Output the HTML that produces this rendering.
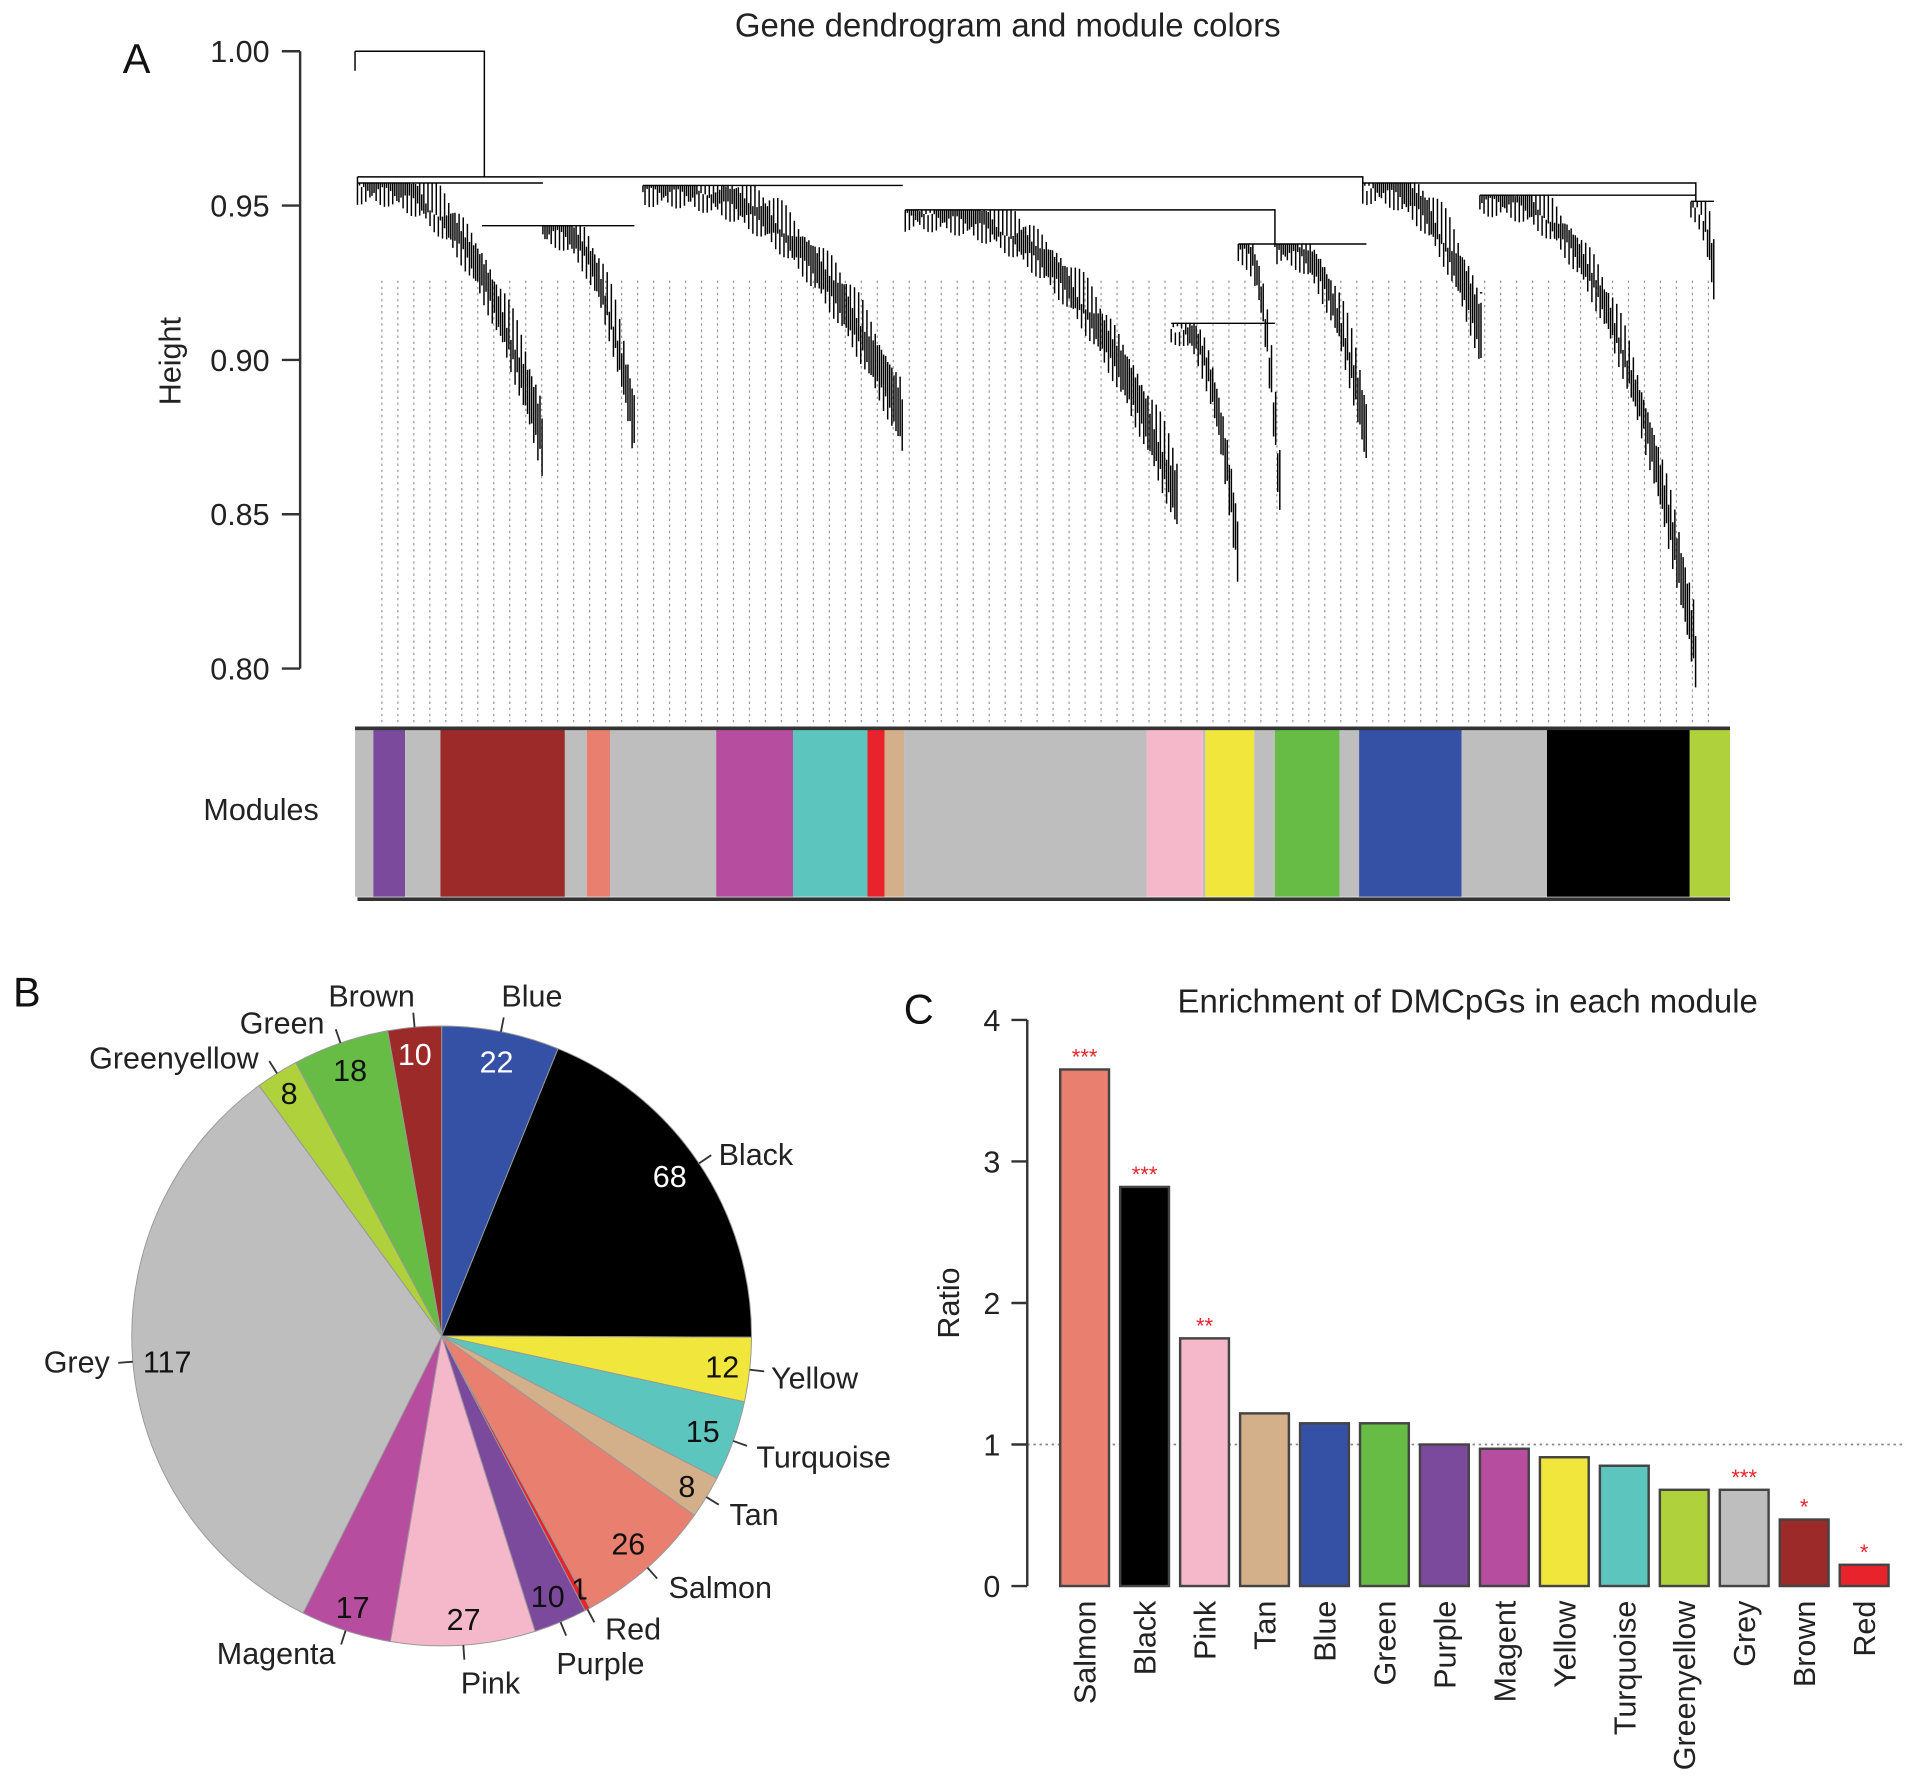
<!DOCTYPE html>
<html><head><meta charset="utf-8"><style>
html,body{margin:0;padding:0;background:#fff;}
svg{display:block;font-family:"Liberation Sans",Arial,sans-serif;}
</style></head><body>
<svg id="fig" width="1913" height="1791" viewBox="0 0 1568 1468" preserveAspectRatio="none" xmlns="http://www.w3.org/2000/svg">
<rect width="1568" height="1468" fill="#fff"/>
<g id="panelA">
<text x="826" y="30" font-size="27" text-anchor="middle" fill="#222">Gene dendrogram and module colors</text>
<text x="112" y="60" font-size="34" text-anchor="middle" fill="#111">A</text>
<text transform="translate(148,296) rotate(-90)" font-size="25" text-anchor="middle" fill="#222">Height</text>
<text x="214" y="672" font-size="25" text-anchor="middle" fill="#222">Modules</text>
<g id="dendroAxis"></g><g id="dendroDots"></g><g id="dendro"></g><g id="modules"></g>
</g>
<g id="panelB">
<text x="22" y="825" font-size="34" text-anchor="middle" fill="#111">B</text>
<g id="pie"></g>
</g>
<g id="panelC">
<text x="753" y="839" font-size="34" text-anchor="middle" fill="#111">C</text>
<text x="1203" y="830" font-size="27" text-anchor="middle" fill="#222">Enrichment of DMCpGs in each module</text>
<text transform="translate(786,1068) rotate(-90)" font-size="25" text-anchor="middle" fill="#222">Ratio</text>
<g id="bars"></g>
</g>
</svg>
<script>
// ---- Panel C data ----
const barCategories = ["Salmon","Black","Pink","Tan","Blue","Green","Purple","Magent","Yellow","Turquoise","Greenyellow","Grey","Brown","Red"];
const barValues = [3.65,2.82,1.75,1.22,1.15,1.15,1.0,0.97,0.91,0.85,0.68,0.68,0.47,0.15];
const barStars = ["***","***","**","","","","","","","","","***","*","*"];
const barTicks = [0,1,2,3,4];
// ---- Panel B data ----
const pieLabels = ["Blue","Black","Yellow","Turquoise","Tan","Salmon","Red","Purple","Pink","Magenta","Grey","Greenyellow","Green","Brown"];
const pieValues = [22,68,12,15,8,26,1,10,27,17,117,8,18,10];
// ---- Panel A axis ticks ----
const heightTicks = [1.00,0.95,0.90,0.85,0.80];

const NS="http://www.w3.org/2000/svg";
const colorMap={Salmon:"#e9806f",Black:"#000",Pink:"#f5b8ca",Tan:"#d3b08a",Blue:"#3451a5",Green:"#67bc45",Purple:"#7b4a9d",Magent:"#b64d9f",Magenta:"#b64d9f",Yellow:"#f1e63b",Turquoise:"#5cc5be",Greenyellow:"#aed13c",Grey:"#bebebe",Brown:"#9b2a28",Red:"#e8232b"};
function mk(tag,attrs,parent){const e=document.createElementNS(NS,tag);for(const k in attrs)e.setAttribute(k,attrs[k]);parent.appendChild(e);return e;}

// ---- Panel A axis ----
const ax=document.getElementById('dendroAxis');
const hy=v=>42+(1.00-v)/0.20*506;
let l=mk('line',{x1:246,x2:246,y1:hy(1),y2:hy(0.8),stroke:"#333","stroke-width":2},ax);


heightTicks.forEach(v=>{
  let t=mk('line',{x1:231,x2:246,y1:hy(v),y2:hy(v),stroke:"#333","stroke-width":2},ax);
  
  
  let tx=mk('text',{x:221,y:hy(v)+9,"font-size":25,"text-anchor":"end",fill:"#222"},ax);
  tx.textContent=v.toFixed(2);
  
  
});

// ---- Dendrogram (approximate drawing) ----
const dg=document.getElementById('dendro');
const dd=document.getElementById('dendroDots');
for(let x=313;x<=1405;x+=13.1){
  let d=mk('line',{x1:x,x2:x,y1:230,y2:592,stroke:"#999","stroke-width":1,"stroke-dasharray":"2,3"},dd);
  
  
}
const clusters=[[293,445,150,385],[445,520,185,372],[527,740,152,366],[742,965,172,430],[960,1015,265,478],[1015,1050,200,440],[1045,1120,200,380],[1117,1215,150,300],[1213,1390,160,557],[1386,1405,165,248]];
const P=[];
clusters.forEach((c,ci)=>{
  const [x0,x1,t,b]=c;
  P.push(`M${x0} ${t}H${x1}`);
  for(let x=x0;x<=x1;x+=1.7){
    const u=(x-x0)/(x1-x0);
    const f=Math.pow(u,2.6);
    const yb=t+10+(b-t-10)*f + 8*Math.sin(x*1.7+ci);
    const len=10+16*Math.abs(Math.sin(x*0.9))+ 25*f;
    P.push(`M${x.toFixed(1)} ${Math.max(t,yb-len).toFixed(1)}V${yb.toFixed(1)}`);
  }
});
P.push("M291 42V58M291 42H397V145M293 145H1117V165M293 145V160M1117 150H1390V165M395 185H520M742 172H1045V200M960 265H1045M1213 240H1215");
let dp=mk('path',{d:P.join(''),stroke:"#000","stroke-width":1.2,fill:"none"},dg);



// ---- Module color bar ----
const mg=document.getElementById('modules');
const segs=[[291,306,"Grey"],[306,332,"Purple"],[332,361,"Grey"],[361,463,"Brown"],[463,481,"Grey"],[481,500,"Salmon"],[500,587,"Grey"],[587,650,"Magenta"],[650,711,"Turquoise"],[711,725,"Red"],[725,741,"Tan"],[741,940,"Grey"],[940,986,"Pink"],[986,988,"Grey"],[988,1028,"Yellow"],[1028,1045,"Grey"],[1045,1098,"Green"],[1098,1114,"Grey"],[1114,1198,"Blue"],[1198,1268,"Grey"],[1268,1385,"Black"],[1385,1418,"Greenyellow"]];
segs.forEach(s=>{
  let r=mk('rect',{x:s[0],y:598,width:s[1]-s[0],height:137,fill:colorMap[s[2]]},mg);
  
  
});
let mt=mk('path',{d:"M291 597H1418M293 737H1418",stroke:"#333","stroke-width":3,fill:"none"},mg);



// ---- Pie ----
const pg=document.getElementById('pie');
const cx=362,cy=1095,R=254;
const total=pieValues.reduce((a,b)=>a+b,0);
const namePos={Blue:[436,825,"middle"],Black:[589,955,"start"],Yellow:[632,1138,"start"],Turquoise:[620,1203,"start"],Tan:[598,1250,"start"],Salmon:[548,1310,"start"],Red:[496,1344,"start"],Purple:[456,1372,"start"],Pink:[402,1388,"middle"],Magenta:[275,1364,"end"],Grey:[90,1125,"end"],Greenyellow:[212,876,"end"],Green:[266,847,"end"],Brown:[340,825,"end"]};
const numPos={Blue:[407,879],Black:[549,973],Yellow:[592,1129],Turquoise:[576,1182],Tan:[563,1227],Salmon:[515,1274],Red:[475,1311],Purple:[449,1317],Pink:[380,1336],Magenta:[289,1326],Grey:[137,1125],Greenyellow:[237,905],Green:[287,886],Brown:[340,873]};
let a=-Math.PI/2;
pieValues.forEach((v,i)=>{
  const name=pieLabels[i];
  const da=v/total*2*Math.PI;
  const a1=a+da;
  const large=da>Math.PI?1:0;
  const d=`M${cx} ${cy}L${cx+R*Math.cos(a)} ${cy+R*Math.sin(a)}A${R} ${R} 0 ${large} 1 ${cx+R*Math.cos(a1)} ${cy+R*Math.sin(a1)}Z`;
  let s=mk('path',{d:d,fill:colorMap[name],stroke:"#999","stroke-width":0.8},pg);
  
  
  const m=(a+a1)/2;
  let tk=mk('line',{x1:cx+R*Math.cos(m),y1:cy+R*Math.sin(m),x2:cx+(R+12)*Math.cos(m),y2:cy+(R+12)*Math.sin(m),stroke:"#333","stroke-width":1.5},pg);
  
  
  const white=(name==="Blue"||name==="Black"||name==="Brown");
  const p=numPos[name];
  let nt=mk('text',{x:p[0],y:p[1],"font-size":25,"text-anchor":"middle",fill:white?"#fff":"#111"},pg);
  nt.textContent=String(v);
  
  
  const np=namePos[name];
  let lt=mk('text',{x:np[0],y:np[1],"font-size":25,"text-anchor":np[2],fill:"#222"},pg);
  lt.textContent=name;
  
  
  a=a1;
});

// ---- Bars ----
const bg=document.getElementById('bars');
const by=v=>1300-v*116;
const bx=i=>889+i*49.15;
let ref=mk('line',{x1:842,x2:1560,y1:by(1),y2:by(1),stroke:"#888","stroke-width":1.5,"stroke-dasharray":"2,3"},bg);


let yl=mk('line',{x1:842,x2:842,y1:by(4),y2:by(0),stroke:"#333","stroke-width":2},bg);


barTicks.forEach(v=>{
  let t=mk('line',{x1:829,x2:842,y1:by(v),y2:by(v),stroke:"#333","stroke-width":2},bg);
  
  
  let tx=mk('text',{x:820,y:by(v)+9,"font-size":25,"text-anchor":"end",fill:"#222"},bg);
  tx.textContent=String(v);
  
  
});
barCategories.forEach((c,i)=>{
  const v=barValues[i];
  let r=mk('rect',{x:bx(i)-20,y:by(v),width:40,height:by(0)-by(v),fill:colorMap[c],stroke:"#444","stroke-width":2},bg);
  
  
  if(barStars[i]){
    let st=mk('text',{x:bx(i),y:by(v)-4,"font-size":18,"text-anchor":"middle",fill:"#e8232b"},bg);
    st.textContent=barStars[i];
    
    
  }
  let lb=mk('text',{transform:`translate(${bx(i)+9},1312) rotate(-90)`,"font-size":25,"text-anchor":"end",fill:"#222"},bg);
  lb.textContent=c;
  
  
});
</script>
</body></html>
